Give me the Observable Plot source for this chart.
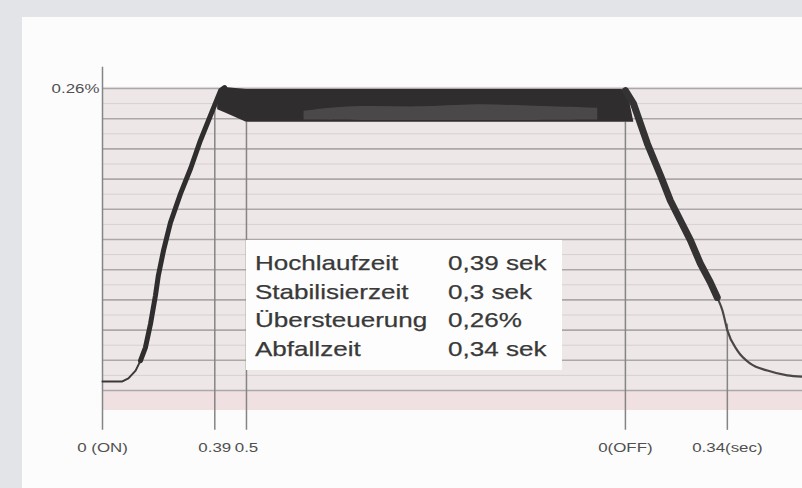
<!DOCTYPE html>
<html>
<head>
<meta charset="utf-8">
<script src="https://cdn.jsdelivr.net/npm/d3@7"></script>
<script src="https://cdn.jsdelivr.net/npm/@observablehq/plot@0.6"></script>
<style>
  html, body { margin: 0; padding: 0; }
  body { width: 802px; height: 488px; background: #e3e4e8; position: relative; overflow: hidden; font-family: "Liberation Sans", Arial, sans-serif; }
  #panel { position: absolute; left: 22px; top: 17px; right: 0; bottom: 0; background: #fcfcfc; }
  #chart { position: absolute; left: 0; top: 0; }
  #stats { position: absolute; left: 246px; top: 240px; width: 316px; height: 130px; background: #fdfdfd;
           box-sizing: border-box; padding-top: 9px; padding-left: 9px; color: #393939; font-size: 21px; }
  #stats .row { height: 28.5px; line-height: 28.5px; white-space: nowrap; }
  #stats .lab, #stats .val { display: inline-block; transform: scaleX(1.24); transform-origin: 0 50%; -webkit-text-stroke: 0.25px #393939; }
  #stats .lab { width: 193px; }
</style>
</head>
<body>
<div id="panel"></div>
<div id="chart"></div>
<div id="stats"></div>
<script>
// ---- data (time in s, level in grid divisions ×10) ----
const riseT = [0, 0.069, 0.090, 0.115, 0.132, 0.149, 0.167, 0.184, 0.194, 0.212, 0.236, 0.271, 0.306, 0.340, 0.382, 0.410, 0.424];
const riseY = [3.0, 3.0, 4.0, 6.6, 9.9, 14.2, 22.2, 31.5, 38.1, 46.4, 55.6, 65.2, 73.5, 82.8, 92.7, 99.3, 100.3];

const bandT      = [0.400, 0.425, 0.500, 1.000, 1.500, 1.800, 1.823, 1.845];
const bandTop    = [97.0, 100.3, 99.7, 99.7, 99.7, 99.7, 99.3, 89.0];
const bandBottom = [93.0, 92.0, 88.8, 88.8, 88.8, 88.8, 88.8, 88.8];

const bandLightT      = [0.70, 0.90, 1.10, 1.30, 1.50, 1.72];
const bandLightTop    = [92.5, 94.5, 93.5, 95.0, 94.0, 93.5];
const bandLightBottom = [89.6, 89.4, 89.4, 89.4, 89.4, 89.6];

const fallT = [1.816, 1.844, 1.892, 1.938, 1.972, 2.007, 2.042, 2.076, 2.111, 2.135, 2.153, 2.170, 2.205, 2.250, 2.309, 2.378, 2.431];
const fallY = [99.3, 95.0, 81.8, 71.2, 62.9, 56.3, 49.7, 42.1, 35.8, 30.8, 26.5, 19.9, 13.2, 8.9, 6.6, 5.0, 4.6];

const markerTimes  = [0, 0.39, 0.5, 1.816, 2.17];
const markerLabels = ["0 (ON)", "0.39", "0.5", "0(OFF)", "0.34(sec)"];
const markerTops   = [107, 92.7, 88.8, 88.8, 22];

const yTickValues = [100];
const yTickLabels = ["0.26%"];

const statsLabels = ["Hochlaufzeit", "Stabilisierzeit", "Übersteuerung", "Abfallzeit"];
const statsValues = ["0,39 sek", "0,3 sek", "0,26%", "0,34 sek"];

// ---- build tables ----
const tEnd = 2.431;
const rise = riseT.map((t, i) => ({t, y: riseY[i]}));
const fall = fallT.map((t, i) => ({t, y: fallY[i]}));
const band = bandT.map((t, i) => ({t, y1: bandBottom[i], y2: bandTop[i]}));
const bandLight = bandLightT.map((t, i) => ({t, y1: bandLightBottom[i], y2: bandLightTop[i]}));
const markers = markerTimes.map((t, i) => ({t, top: markerTops[i], label: markerLabels[i]}));
const labelOf = new Map(markerTimes.map((t, i) => [t, markerLabels[i]]));
const yLabelOf = new Map(yTickValues.map((v, i) => [v, yTickLabels[i]]));

const darkGrid = d3.range(0, 101, 10);
const lightGrid = d3.range(5, 100, 10);

const chart = Plot.plot({
  width: 802,
  height: 488,
  marginLeft: 102,
  marginRight: 0,
  marginTop: 60,
  marginBottom: 48,
  x: {domain: [0, tEnd], range: [102, 802]},
  y: {domain: [0, 100], range: [390, 88]},
  style: {background: "transparent", fontFamily: "'Liberation Sans', Arial, sans-serif", fontSize: "13px", color: "#505050"},
  marks: [
    Plot.rect([0], {x1: 0, x2: tEnd, y1: -6.6, y2: 100.4, fill: "#eee7e7"}),
    Plot.rect([0], {x1: 0, x2: tEnd, y1: -6.6, y2: 0, fill: "#f1e0e1"}),
    Plot.ruleY(lightGrid, {stroke: "#d8d0d0", strokeWidth: 1}),
    Plot.ruleY(darkGrid, {stroke: "#aca7a8", strokeWidth: 1.6}),
    Plot.ruleX(markers, {x: "t", y1: -13.2, y2: "top", stroke: "#858585", strokeWidth: 1.5}),
    Plot.areaY(band, {x: "t", y1: "y1", y2: "y2", fill: "#2f2d2e"}),
    Plot.areaY(bandLight, {x: "t", y1: "y1", y2: "y2", fill: "#6f6a6a", fillOpacity: 0.45, curve: "basis"}),
    Plot.line(rise, {x: "t", y: "y", stroke: "#3a3838", strokeWidth: 2}),
    Plot.line(rise.filter(d => d.y >= 9), {x: "t", y: "y", stroke: "#2f2d2e", strokeWidth: 5, strokeLinejoin: "round"}),
    Plot.line(fall, {x: "t", y: "y", stroke: "#4a4747", strokeWidth: 2.2, curve: "monotone-x"}),
    Plot.line(fall.filter(d => d.t <= 2.14), {x: "t", y: "y", stroke: "#343233", strokeWidth: 7, strokeLinejoin: "round"}),
    Plot.axisX(markerTimes, {tickSize: 0, tickPadding: 2, tickFormat: d => labelOf.get(d), label: null, anchor: "bottom"}),
    Plot.axisY(yTickValues, {tickSize: 0, tickPadding: 3, tickFormat: d => yLabelOf.get(d), label: null, anchor: "left"})
  ]
});
document.getElementById("chart").appendChild(chart);

// widen the scanned-looking tick labels horizontally (about their anchor point)
d3.select(chart).selectAll("g[aria-label$='tick label'] text").each(function() {
  const tf = this.getAttribute("transform") || "";
  this.setAttribute("transform", `${tf} scale(1.3,1)`);
});

const stats = d3.select("#stats");
statsLabels.forEach((lab, i) => {
  const row = stats.append("div").attr("class", "row");
  row.append("span").attr("class", "lab").text(lab);
  row.append("span").attr("class", "val").text(statsValues[i]);
});
</script>
</body>
</html>
